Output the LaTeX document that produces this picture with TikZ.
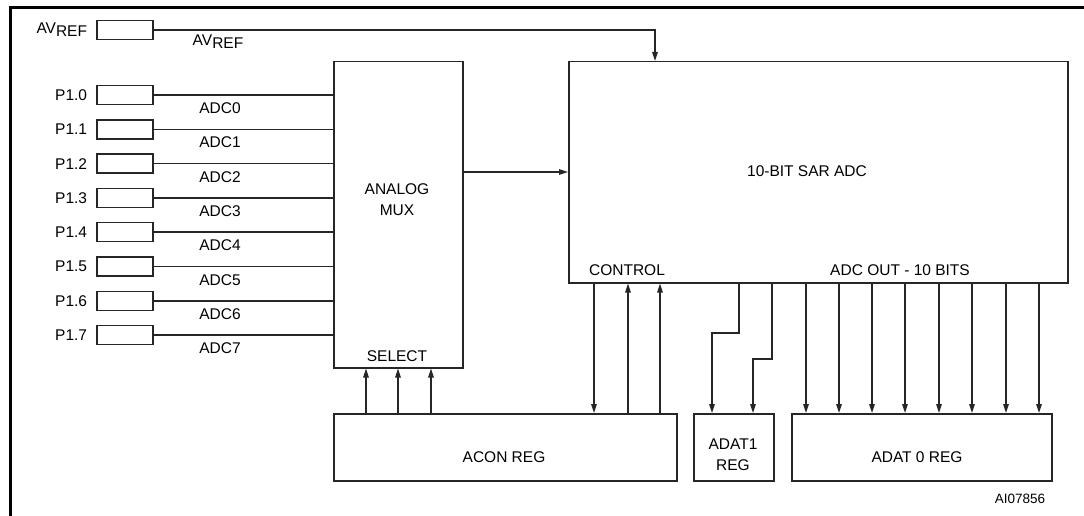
\documentclass[tikz,border=0pt]{standalone}
\usepackage{fontspec}
\setmainfont{Liberation Sans}
\usetikzlibrary{arrows.meta,positioning,calc}
\definecolor{wireblack}{HTML}{262626}

\newcommand{\lowsub}[1]{\raisebox{-0.35ex}{#1}}

\begin{document}
\begin{tikzpicture}[
  x=1pt, y=-1pt,
  every node/.style={font=\fontsize{15.5}{21}\selectfont, inner sep=0pt, align=center},
  blk/.style={draw=wireblack, line width=1.5pt, anchor=north west},
  pinbox/.style={draw=wireblack, line width=1.5pt, minimum width=56pt, minimum height=19pt},
  wire/.style={draw=wireblack, line width=1.5pt},
  arr/.style={wire, -{Triangle[length=9pt,width=5.5pt]}},
]
  % Frame
  \useasboundingbox (0,0) rectangle (1084,516);
  \draw[line width=3pt] (10,516) -- (10,7.5) -- (1084,7.5);

  % Blocks
  \node[blk, minimum width=129pt, minimum height=306pt] (mux) at (333,61) {};
  \node (muxtxt) at (397,200) {ANALOG\\MUX};
  \node (select) at (397,356) {SELECT};
  \node[blk, minimum width=499pt, minimum height=221pt] (sar) at (568,61) {};
  \node (sartxt) at (807,171) {10-BIT SAR ADC};
  \node (control) at (627,270) {CONTROL};
  \node (adcout) at (900,270) {ADC OUT - 10 BITS};
  \node[blk, minimum width=343pt, minimum height=67pt] (acon) at (333,413) {};
  \node (acontxt) at (504,457) {ACON REG};
  \node[blk, minimum width=80pt, minimum height=67pt] (adat1) at (693,413) {};
  \node (adat1txt) at (733,455) {ADAT1\\REG};
  \node[blk, minimum width=260pt, minimum height=67pt] (adat0) at (791,413) {};
  \node (adat0txt) at (917,457) {ADAT 0 REG};
  \node[font=\fontsize{13.5}{16}\selectfont] (ref) at (1020,499) {AI07856};

  % Reference input
  \node[pinbox] (avbox) at (125,30) {};
  \node[left=9pt of avbox] (avname) {AV\lowsub{REF}};
  \coordinate (avin) at (655,61);
  \draw[arr] (avbox.east) -| (avin);
  \node (avwire) at (218,42) {AV\lowsub{REF}};

  % Analog inputs
  \foreach \i in {0,...,7} {
    \node[pinbox] (p\i) at (125,95+34.3*\i) {};
    \node[left=9pt of p\i] (pname\i) {P1.\i};
    \draw[wire] (p\i.east) -- (p\i.east -| mux.west)
      node[pos=0.37, below=7pt] (adc\i) {ADC\i};
  }

  % Mux to ADC
  \coordinate (sarin) at (568,172);
  \draw[arr] (sarin -| mux.east) -- (sarin);

  % Select lines
  \foreach \x in {366,398,431}
    \draw[arr] (acon.north -| \x,0) -- (mux.south -| \x,0);

  % Control lines
  \draw[arr] (sar.south -| 594,0) -- (acon.north -| 594,0);
  \foreach \x in {628,660}
    \draw[arr] (acon.north -| \x,0) -- (sar.south -| \x,0);

  % ADAT1 bits
  \draw[arr] (sar.south -| 739,0) |- (712,333) -- (adat1.north -| 712,0);
  \draw[arr] (sar.south -| 772,0) |- (753,359) -- (adat1.north -| 753,0);

  % ADAT0 bits
  \foreach \x in {806,839,872,905,939,972,1006,1039}
    \draw[arr] (sar.south -| \x,0) -- (adat0.north -| \x,0);
\end{tikzpicture}
\end{document}
